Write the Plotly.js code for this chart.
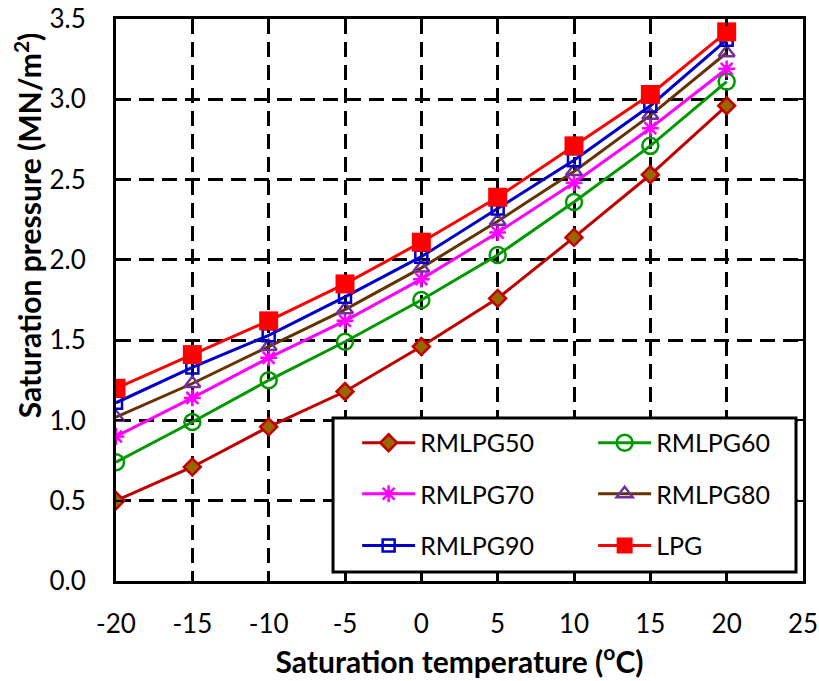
<!DOCTYPE html>
<html>
<head>
<meta charset="utf-8">
<script src="https://cdn.plot.ly/plotly-3.0.1.min.js"></script>
<style>html,body{margin:0;padding:0;background:#fff;}#chart{width:819px;height:681px;}</style>
</head>
<body>
<div id="chart"></div>
<script>
const temperature = [-20, -15, -10, -5, 0, 5, 10, 15, 20];
const seriesNames = ["RMLPG50", "RMLPG60", "RMLPG70", "RMLPG80", "RMLPG90", "LPG"];
const rmlpg50 = [0.50, 0.71, 0.96, 1.18, 1.46, 1.76, 2.14, 2.53, 2.96];
const rmlpg60 = [0.74, 0.99, 1.25, 1.49, 1.75, 2.03, 2.36, 2.71, 3.11];
const rmlpg70 = [0.90, 1.14, 1.39, 1.62, 1.88, 2.17, 2.48, 2.82, 3.19];
const rmlpg80 = [1.02, 1.23, 1.46, 1.69, 1.95, 2.24, 2.55, 2.90, 3.29];
const rmlpg90 = [1.11, 1.33, 1.53, 1.77, 2.02, 2.32, 2.62, 2.96, 3.37];
const lpg     = [1.20, 1.41, 1.62, 1.85, 2.11, 2.39, 2.71, 3.03, 3.42];
const xTicks = [-20, -15, -10, -5, 0, 5, 10, 15, 20, 25];
const yTicks = [0, 0.5, 1.0, 1.5, 2.0, 2.5, 3.0, 3.5];
const xTitle = "Saturation temperature (<sup>o</sup>C)";
const yTitle = "Saturation pressure (MN/m<sup>2</sup>)";

const FONT = "Lato, 'Open Sans', sans-serif";
const legendRows = ["legend", "legend", "legend2", "legend2", "legend3", "legend3"];
const legendWidths = [168, 130, 168, 130, 168, 130];
const traces = [
  {y: rmlpg50, line: {color: "#C00000", width: 3}, marker: {symbol: "diamond", size: 13, color: "#996600", line: {color: "#C00000", width: 2.5}}},
  {y: rmlpg60, line: {color: "#009900", width: 3}, marker: {symbol: "circle-open", size: 16, color: "#009900", line: {color: "#009900", width: 2.5}}},
  {y: rmlpg70, line: {color: "#FF00FF", width: 3}, marker: {symbol: "asterisk-open", size: 14, color: "#FF00FF", line: {color: "#FF00FF", width: 2.5}}},
  {y: rmlpg80, line: {color: "#663300", width: 3}, marker: {symbol: "triangle-up-open", size: 14, color: "#7030A0", line: {color: "#7030A0", width: 2.5}}},
  {y: rmlpg90, line: {color: "#0000CC", width: 3}, marker: {symbol: "square-open", size: 12, color: "#0000CC", line: {color: "#0000CC", width: 2.5}}},
  {y: lpg,     line: {color: "#FF0000", width: 3}, marker: {symbol: "square", size: 19, color: "#FF0000", line: {color: "#FF0000", width: 0}}}
].map((t, i) => Object.assign({x: temperature, name: seriesNames[i], type: "scatter", mode: "lines+markers",
                               legend: legendRows[i], legendwidth: legendWidths[i]}, t));

const axisCommon = {
  showline: true, linecolor: "#000", linewidth: 3, mirror: "ticks",
  ticks: "inside", ticklen: 7, tickwidth: 2, tickcolor: "#000",
  showgrid: true, gridcolor: "#000", gridwidth: 3, griddash: "15px,8px",
  zeroline: false, tickfont: {family: FONT, size: 26, color: "#000"}
};

const legendCommon = {
  orientation: "h", xanchor: "left", yanchor: "middle",
  bgcolor: "rgba(0,0,0,0)", borderwidth: 0, itemwidth: 53,
  font: {family: FONT, size: 25, color: "#000"}
};
const legX = 0.351;

const layout = {
  width: 819, height: 681,
  margin: {l: 116, r: 16, t: 19, b: 100},
  paper_bgcolor: "#fff", plot_bgcolor: "#fff",
  font: {family: FONT, color: "#000"},
  showlegend: true,
  xaxis: Object.assign({}, axisCommon, {
    range: [-20, 25], tickvals: xTicks, ticktext: xTicks.map(String), ticklabelstandoff: 18,
    title: {text: xTitle, font: {family: FONT, size: 30, color: "#000", weight: "bold"}, standoff: 12}
  }),
  yaxis: Object.assign({}, axisCommon, {
    range: [0, 3.5], tickvals: yTicks, ticktext: yTicks.map(v => v.toFixed(1)), ticklabelstandoff: 22
  }),
  annotations: [{
    text: yTitle, xref: "paper", yref: "paper", x: -0.128, y: 0.633,
    xanchor: "center", yanchor: "middle", textangle: -90, showarrow: false,
    font: {family: FONT, size: 30, color: "#000", weight: "bold"}
  }],
  legend:  Object.assign({}, legendCommon, {x: legX, y: 0.2456}),
  legend2: Object.assign({}, legendCommon, {x: legX, y: 0.1548}),
  legend3: Object.assign({}, legendCommon, {x: legX, y: 0.0628}),
  shapes: [{
    type: "rect", xref: "paper", yref: "paper", layer: "above",
    x0: 0.3159, x1: 0.9898, y0: 0.016, y1: 0.290,
    fillcolor: "#fff", line: {color: "#000", width: 3}
  }]
};

Plotly.newPlot("chart", traces, layout, {displayModeBar: false, staticPlot: true});
</script>
</body>
</html>
